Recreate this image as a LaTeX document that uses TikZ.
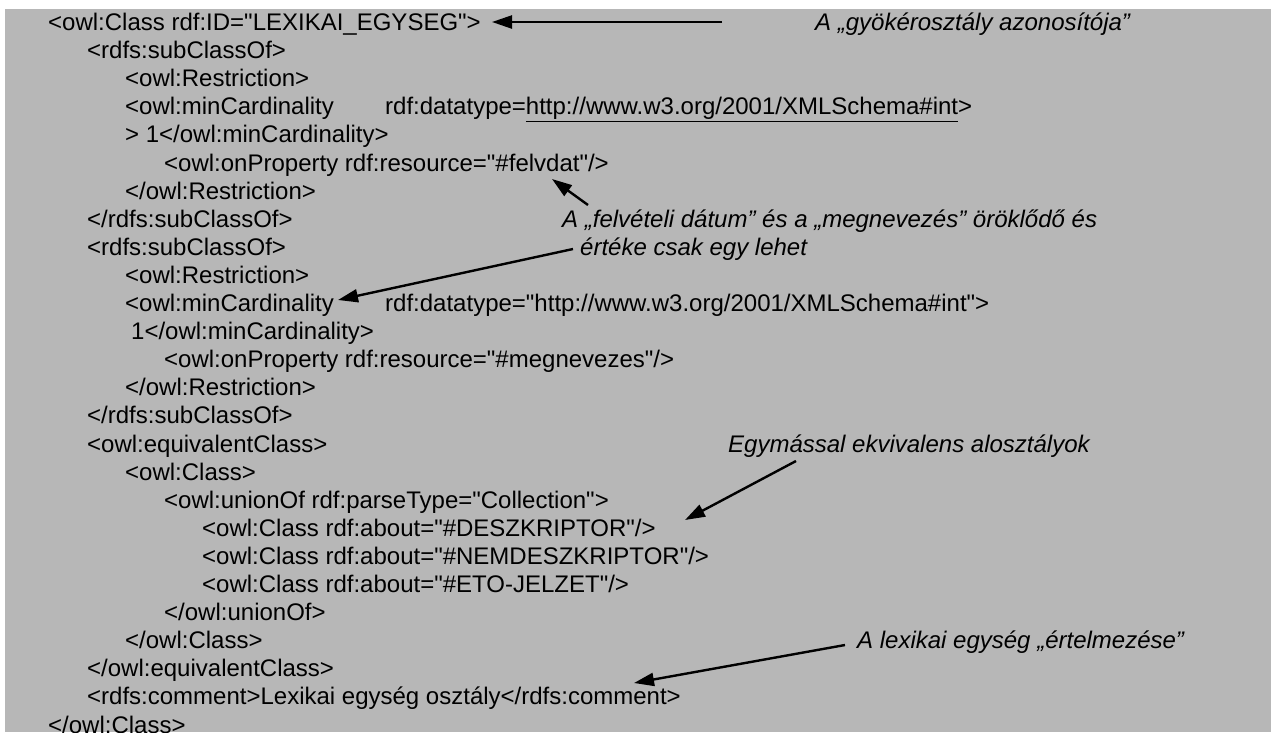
\documentclass[tikz,border=0pt]{standalone}
\usepackage{fontspec}
\setmainfont{Liberation Sans}[Ligatures=TeXOff]
\usetikzlibrary{arrows.meta}
\definecolor{bg}{RGB}{183,183,183}
\begin{document}
\begin{tikzpicture}[x=1pt,y=-1pt,
  code/.style={anchor=base west, inner sep=0pt, font=\fontsize{24}{28}\selectfont},
  note/.style={anchor=base west, inner sep=0pt, font=\fontsize{24}{28}\selectfont\itshape},
  pointer/.style={line width=2.4pt, -{Triangle[length=20pt,width=13pt]}}]
\useasboundingbox (0,0) rectangle (1271,732);
\fill[bg] (5,9) rectangle (1271,732);
% code lines
\node[code] (l1)  at (48,30.5)   {<owl:Class rdf:ID="LEXIKAI\_EGYSEG">};
\node[code] (l2)  at (87,58.6)   {<rdfs:subClassOf>};
\node[code] (l3)  at (125,86.7)  {<owl:Restriction>};
\node[code] (l4)  at (125,114.8) {<owl:minCardinality};
\node[code] (l4b) at (385,114.8) {rdf:datatype=\underline{http://www.w3.org/2001/XMLSchema\#int}>};
\node[code] (l5)  at (125,142.9) {> 1</owl:minCardinality>};
\node[code] (l6)  at (164,171.0) {<owl:onProperty rdf:resource="\#felvdat"/>};
\node[code] (l7)  at (125,199.1) {</owl:Restriction>};
\node[code] (l8)  at (87,227.2)  {</rdfs:subClassOf>};
\node[code] (l9)  at (87,255.3)  {<rdfs:subClassOf>};
\node[code] (l10) at (125,283.4) {<owl:Restriction>};
\node[code] (l11) at (125,311.5) {<owl:minCardinality};
\node[code] (l11b)at (385,311.5) {rdf:datatype="http://www.w3.org/2001/XMLSchema\#int">};
\node[code] (l12) at (131,339.6) {1</owl:minCardinality>};
\node[code] (l13) at (164,367.7) {<owl:onProperty rdf:resource="\#megnevezes"/>};
\node[code] (l14) at (125,395.8) {</owl:Restriction>};
\node[code] (l15) at (87,423.9)  {</rdfs:subClassOf>};
\node[code] (l16) at (87,452.0)  {<owl:equivalentClass>};
\node[code] (l17) at (125,480.1) {<owl:Class>};
\node[code] (l18) at (164,508.2) {<owl:unionOf rdf:parseType="Collection">};
\node[code] (l19) at (202,536.3) {<owl:Class rdf:about="\#DESZKRIPTOR"/>};
\node[code] (l20) at (202,564.4) {<owl:Class rdf:about="\#NEMDESZKRIPTOR"/>};
\node[code] (l21) at (202,592.5) {<owl:Class rdf:about="\#ETO-JELZET"/>};
\node[code] (l22) at (164,620.6) {</owl:unionOf>};
\node[code] (l23) at (125,648.7) {</owl:Class>};
\node[code] (l24) at (87,676.8)  {</owl:equivalentClass>};
\node[code] (l25) at (87,704.9)  {<rdfs:comment>Lexikai egység osztály</rdfs:comment>};
\node[code] (l26) at (48,733.0)  {</owl:Class>};
% notes
\node[note] (n1) at (815,30.5)  {A „gyökérosztály azonosítója”};
\node[note] (n2) at (562,227.2) {A „felvételi dátum” és a „megnevezés” öröklődő és};
\node[note] (n3) at (580,255.3) {értéke csak egy lehet};
\node[note] (n4) at (728,452.0) {Egymással ekvivalens alosztályok};
\node[note] (n5) at (857,648.7) {A lexikai egység „értelmezése”};
% arrows
\coordinate (t1) at (722,22);  \coordinate (h1) at (492,22);
\coordinate (t2) at (588,205); \coordinate (h2) at (552,179);
\coordinate (t3) at (573,249); \coordinate (h3) at (338,300);
\coordinate (t4) at (796,461); \coordinate (h4) at (685,520);
\coordinate (t5) at (845,645); \coordinate (h5) at (634,683);
\draw[pointer] (t1) -- (h1);
\draw[pointer] (t2) -- (h2);
\draw[pointer] (t3) -- (h3);
\draw[pointer] (t4) -- (h4);
\draw[pointer] (t5) -- (h5);
\end{tikzpicture}
\end{document}
